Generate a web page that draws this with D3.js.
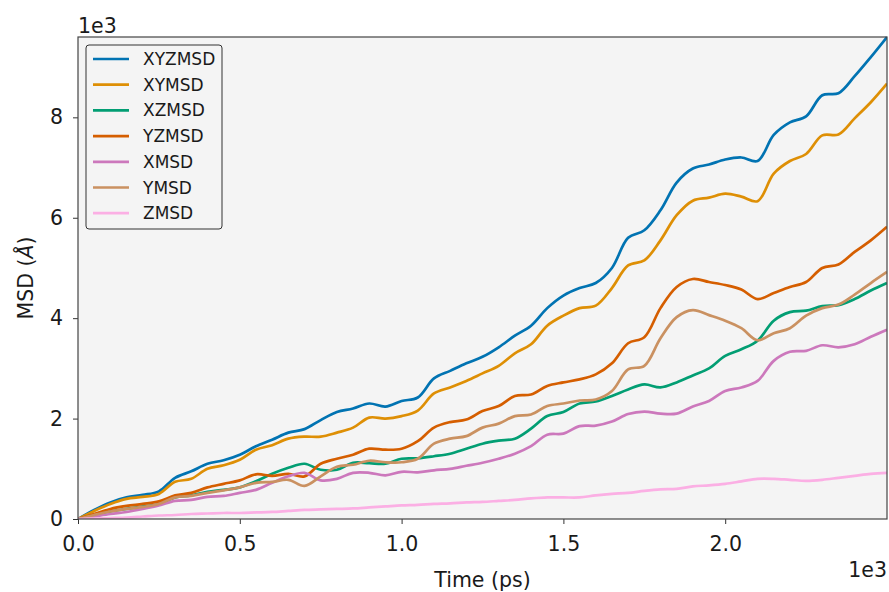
<!DOCTYPE html>
<html>
<head>
<meta charset="utf-8">
<script src="https://cdn.jsdelivr.net/npm/d3@7"></script>
<style>
  html, body { margin: 0; padding: 0; background: #ffffff; }
  svg { display: block; font-family: "DejaVu Sans", sans-serif; }
</style>
</head>
<body>
<svg id="chart" width="889" height="592"></svg>
<script>
// Time in ps (step 50)
const time = d3.range(0, 2501, 50);

// MSD values (Å)
const XYZMSD = [0,180,330,430,480,550,820,950,1100,1170,1280,1450,1580,1720,1790,1970,2130,2200,2300,2240,2350,2420,2800,2950,3100,3230,3420,3650,3850,4200,4450,4600,4700,5000,5600,5750,6150,6700,6980,7060,7160,7200,7130,7650,7900,8020,8440,8480,8820,9200,9600];
const XYMSD  = [0,160,300,400,440,500,740,800,1000,1070,1180,1380,1470,1600,1640,1640,1720,1820,2020,2000,2050,2160,2500,2620,2750,2900,3050,3300,3480,3850,4050,4200,4250,4600,5050,5150,5550,6050,6340,6400,6480,6420,6330,6880,7130,7270,7640,7660,7980,8300,8670];
const XZMSD  = [0,80,150,200,250,300,430,470,540,580,630,750,900,1020,1100,980,980,1120,1110,1100,1200,1210,1250,1300,1400,1500,1560,1600,1800,2050,2130,2300,2340,2450,2580,2680,2620,2720,2860,3000,3250,3380,3550,3950,4120,4150,4240,4260,4380,4550,4700];
const YZMSD  = [0,100,200,260,300,350,470,520,630,700,770,890,860,900,850,1100,1200,1280,1400,1380,1400,1550,1820,1930,1980,2150,2250,2450,2480,2650,2720,2780,2880,3100,3500,3620,4200,4620,4780,4720,4660,4570,4380,4500,4620,4720,5000,5070,5320,5550,5820];
const XMSD   = [0,50,100,140,200,270,360,380,440,460,520,580,720,850,920,770,800,920,920,870,940,930,970,1000,1060,1120,1200,1300,1450,1680,1700,1850,1860,1940,2090,2140,2100,2100,2240,2350,2550,2620,2750,3150,3330,3350,3460,3420,3480,3630,3770];
const YMSD   = [0,80,150,200,240,300,430,460,520,570,630,720,740,780,660,850,1040,1080,1160,1130,1130,1200,1500,1600,1650,1820,1900,2050,2080,2250,2300,2360,2380,2550,2980,3050,3600,4020,4160,4060,3950,3800,3560,3700,3800,4050,4200,4270,4470,4700,4920];
const ZMSD   = [0,10,20,30,50,70,80,100,110,120,120,130,140,160,180,190,200,210,230,250,270,280,300,310,330,340,360,380,410,430,430,430,470,500,520,560,590,600,650,670,700,750,800,800,780,760,780,820,860,900,920];

const seriesNames = ["XYZMSD","XYMSD","XZMSD","YZMSD","XMSD","YMSD","ZMSD"];
const seriesValues = [XYZMSD, XYMSD, XZMSD, YZMSD, XMSD, YMSD, ZMSD];
const colors = ["#0173B2","#DE8F05","#029E73","#D55E00","#CC78BC","#CA9161","#FBAFE4"];

const xTicks = [0, 500, 1000, 1500, 2000];
const yTicks = [0, 2000, 4000, 6000, 8000];

const svg = d3.select("#chart");
const M = { left: 78, right: 887, top: 37, bottom: 519 };

const x = d3.scaleLinear().domain([0, 2500]).range([M.left, M.right]);
const y = d3.scaleLinear().domain([0, 9600]).range([M.bottom, M.top]);

// plot background
svg.append("rect")
  .attr("x", M.left).attr("y", M.top)
  .attr("width", M.right - M.left).attr("height", M.bottom - M.top)
  .attr("fill", "#f4f4f4");

// clip
svg.append("clipPath").attr("id", "clip")
  .append("rect")
  .attr("x", M.left).attr("y", M.top - 2)
  .attr("width", M.right - M.left).attr("height", M.bottom - M.top + 2);

const line = d3.line()
  .x((d, i) => x(time[i]))
  .y(d => y(d))
  .curve(d3.curveCatmullRom.alpha(0.5));

const g = svg.append("g").attr("clip-path", "url(#clip)");
seriesValues.forEach((vals, k) => {
  g.append("path")
    .datum(vals)
    .attr("d", line)
    .attr("fill", "none")
    .attr("stroke", colors[k])
    .attr("stroke-width", 2.7)
    .attr("stroke-linejoin", "round")
    .attr("stroke-linecap", "butt");
});

// axes
const xAxis = d3.axisBottom(x).tickValues(xTicks)
  .tickFormat(d => (d / 1000).toFixed(1)).tickSize(5).tickPadding(12);
const yAxis = d3.axisLeft(y).tickValues(yTicks)
  .tickFormat(d => d3.format("d")(d / 1000)).tickSize(5).tickPadding(10);

const gx = svg.append("g").attr("transform", `translate(0,${M.bottom})`).call(xAxis);
const gy = svg.append("g").attr("transform", `translate(${M.left},0)`).call(yAxis);
[gx, gy].forEach(a => {
  a.select(".domain").remove();
  a.selectAll(".tick line").attr("stroke", "#333").attr("stroke-width", 1);
  a.selectAll(".tick text").attr("fill", "#1a1a1a").style("font-size", "20.5px")
    .style("font-family", "DejaVu Sans, sans-serif");
});

// frame
svg.append("rect")
  .attr("x", M.left).attr("y", M.top)
  .attr("width", M.right - M.left).attr("height", M.bottom - M.top)
  .attr("fill", "none").attr("stroke", "#444").attr("stroke-width", 1.2);

// offset texts
svg.append("text").attr("x", M.left).attr("y", 33)
  .attr("font-size", 20.5).attr("fill", "#1a1a1a").text("1e3");
svg.append("text").attr("x", M.right).attr("y", 577)
  .attr("text-anchor", "end").attr("font-size", 20.5).attr("fill", "#1a1a1a").text("1e3");

// axis labels
svg.append("text").attr("x", (M.left + M.right) / 2).attr("y", 587)
  .attr("text-anchor", "middle").attr("font-size", 20.5).attr("fill", "#1a1a1a").text("Time (ps)");
const yl = svg.append("text")
  .attr("transform", `translate(33,${(M.top + M.bottom) / 2}) rotate(-90)`)
  .attr("text-anchor", "middle").attr("font-size", 20.5).attr("fill", "#1a1a1a");
yl.append("tspan").text("MSD (");
yl.append("tspan").attr("font-style", "italic").text("Å");
yl.append("tspan").text(")");

// legend
const lg = svg.append("g");
lg.append("rect")
  .attr("x", 86).attr("y", 45).attr("width", 136).attr("height", 184)
  .attr("rx", 3).attr("ry", 3)
  .attr("fill", "#f4f4f4").attr("stroke", "#333").attr("stroke-width", 1);
seriesNames.forEach((name, k) => {
  const yy = 59 + k * 25.7;
  lg.append("line")
    .attr("x1", 93).attr("x2", 129).attr("y1", yy).attr("y2", yy)
    .attr("stroke", colors[k]).attr("stroke-width", 2.7);
  lg.append("text")
    .attr("x", 143).attr("y", yy + 6)
    .attr("font-size", 17).attr("fill", "#1a1a1a").text(name);
});
</script>
</body>
</html>
